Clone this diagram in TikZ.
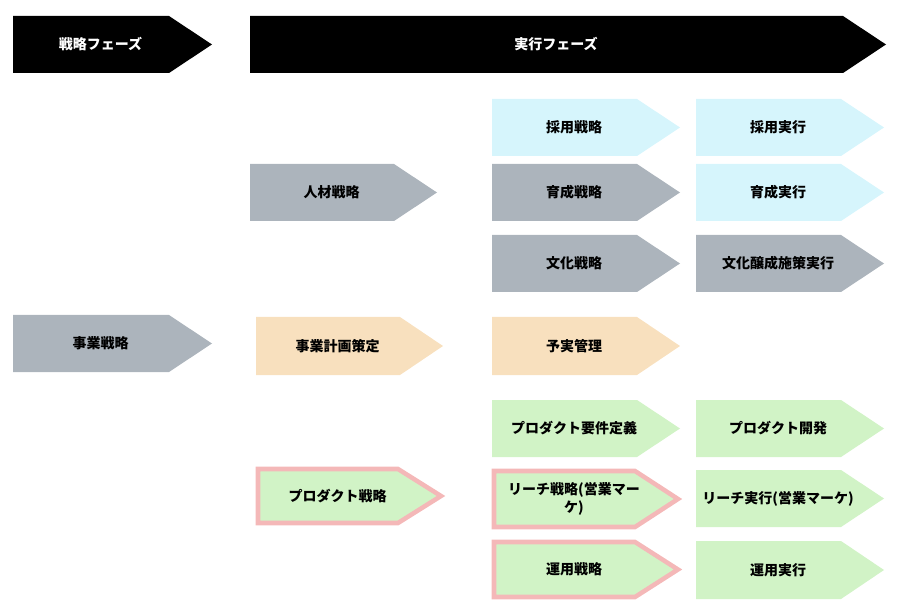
\documentclass[tikz,border=0pt]{standalone}
\usepackage{fontspec}
\setmainfont{Noto Sans CJK JP}

\definecolor{slategray}{RGB}{172,180,188}
\definecolor{skyfill}{RGB}{214,245,252}
\definecolor{peachfill}{RGB}{248,224,190}
\definecolor{leaffill}{RGB}{209,243,198}
\definecolor{roseline}{RGB}{244,184,184}

% pentagon arrow box: [text opts]{name}{style}{x}{y}{width}{height}{text}
\newcommand{\phasebox}[8][]{%
  \path[#3] (#4,#5) -- ++({#6-43},0) -- ++(43,{#7/2}) -- ++(-43,{#7/2}) -- ++({43-#6},0) -- cycle;
  \node[lbl,#1] (#2) at ({#4+#6/2-12},{#5+#7/2}) {#8};
}

\tikzset{
  lbl/.style={font=\bfseries\fontsize{10.5}{14}\selectfont, align=center, inner sep=0pt},
  headbox/.style={fill=black},
  graybox/.style={fill=slategray},
  bluebox/.style={fill=skyfill},
  peachbox/.style={fill=peachfill},
  greenbox/.style={fill=leaffill},
  markbox/.style={fill=leaffill, draw=roseline, line width=3.4pt}
}

\begin{document}
\begin{tikzpicture}[x=0.75pt, y=-0.75pt]
    \useasboundingbox (0,0) rectangle (902,616);

    % phases
    \phasebox[text=white]{strat}{headbox}{13}{16}{199}{57}{戦略フェーズ}
    \phasebox[text=white]{exec}{headbox}{250}{16}{636}{57}{実行フェーズ}

    % people
    \phasebox{hire}{bluebox}{492}{99}{188}{57}{採用戦略}
    \phasebox{hirex}{bluebox}{696}{99}{188}{57}{採用実行}
    \phasebox{people}{graybox}{250}{164}{187}{57}{人材戦略}
    \phasebox{train}{graybox}{492}{164}{188}{57}{育成戦略}
    \phasebox{trainx}{bluebox}{696}{164}{188}{57}{育成実行}
    \phasebox{culture}{graybox}{492}{235}{188}{57}{文化戦略}
    \phasebox{culturex}{graybox}{696}{235}{188}{57}{文化醸成施策実行}

    % business
    \phasebox{biz}{graybox}{13}{315}{199}{57}{事業戦略}
    \phasebox{plan}{peachbox}{256}{317}{187}{58}{事業計画策定}
    \phasebox{budget}{peachbox}{492}{317}{188}{58}{予実管理}

    % product
    \phasebox{req}{greenbox}{492}{400}{188}{57}{プロダクト要件定義}
    \phasebox{dev}{greenbox}{696}{400}{188}{57}{プロダクト開発}
    \phasebox{product}{markbox}{258}{469}{183}{54}{プロダクト戦略}
    \phasebox{reach}{markbox}{494}{471}{184}{56}{リーチ戦略(営業マー\\ケ)}
    \phasebox{reachx}{greenbox}{696}{470}{188}{57}{リーチ実行(営業マーケ)}
    \phasebox{ops}{markbox}{494}{542}{184}{55}{運用戦略}
    \phasebox{opsx}{greenbox}{696}{541}{188}{58}{運用実行}
\end{tikzpicture}
\end{document}
